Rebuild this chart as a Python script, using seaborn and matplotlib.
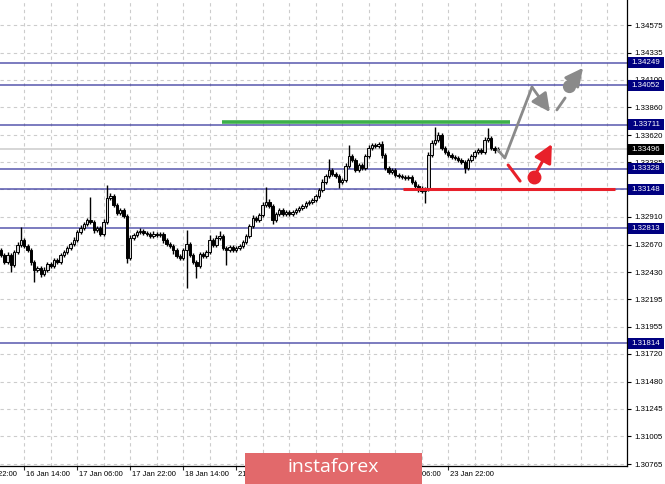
import numpy as np
import pandas as pd
import seaborn as sns
import matplotlib
matplotlib.use("Agg")
import matplotlib.pyplot as plt
from matplotlib.patches import Rectangle
from matplotlib.transforms import blended_transform_factory, ScaledTranslation

# ---------------- data ----------------
first_open = 1.32622
closes = [
    1.32579, 1.32518, 1.32579, 1.32492, 1.32605, 1.32665, 1.32709, 1.32657, 1.32622, 1.32518,
    1.32448, 1.32466, 1.32414, 1.32448, 1.32500, 1.32483, 1.32535, 1.32518, 1.32579, 1.32605,
    1.32639, 1.32674, 1.32709, 1.32778, 1.32813, 1.32848, 1.32882, 1.32865, 1.32796, 1.32813,
    1.32761, 1.32865, 1.33073, 1.33091, 1.33013, 1.32943, 1.32970, 1.32917, 1.32553, 1.32726,
    1.32752, 1.32778, 1.32787, 1.32770, 1.32761, 1.32744, 1.32761, 1.32752, 1.32761, 1.32709,
    1.32674, 1.32657, 1.32622, 1.32570, 1.32553, 1.32622, 1.32674, 1.32579, 1.32518, 1.32483,
    1.32587, 1.32570, 1.32605, 1.32709, 1.32665, 1.32726, 1.32744, 1.32639, 1.32622, 1.32648,
    1.32622, 1.32639, 1.32657, 1.32692, 1.32744, 1.32830, 1.32900, 1.32882, 1.32926, 1.33013,
    1.33039, 1.33004, 1.32882, 1.32935, 1.32970, 1.32935, 1.32952, 1.32935, 1.32952, 1.32970,
    1.32987, 1.33004, 1.33030, 1.33039, 1.33056, 1.33091, 1.33143, 1.33212, 1.33264, 1.33316,
    1.33282, 1.33264, 1.33212, 1.33230, 1.33351, 1.33438, 1.33403, 1.33316, 1.33360, 1.33334,
    1.33438, 1.33507, 1.33533, 1.33525, 1.33542, 1.33447, 1.33334, 1.33299, 1.33316, 1.33273,
    1.33264, 1.33256, 1.33247, 1.33256, 1.33212, 1.33178, 1.33160, 1.33134, 1.33151, 1.33447,
    1.33551, 1.33577, 1.33620, 1.33507, 1.33473, 1.33447, 1.33429, 1.33421, 1.33403, 1.33386,
    1.33334, 1.33403, 1.33438, 1.33473, 1.33490, 1.33473, 1.33577, 1.33594, 1.33507, 1.33490,
    1.33496,
]
upper_wick_pips = [
    2, 2, 3, 2, 2, 3, 11, 2, 2, 2,
    2, 2, 2, 3, 2, 2, 2, 2, 2, 2,
    2, 2, 3, 2, 3, 2, 2, 20, 2, 2,
    2, 3, 11, 3, 2, 2, 2, 2, 2, 3,
    2, 2, 3, 2, 2, 2, 3, 2, 2, 2,
    2, 2, 2, 2, 2, 2, 12, 2, 2, 2,
    2, 2, 2, 4, 2, 3, 4, 2, 2, 2,
    2, 2, 2, 2, 2, 2, 3, 2, 2, 3,
    13, 3, 2, 2, 2, 2, 2, 2, 2, 2,
    2, 2, 2, 2, 2, 2, 2, 3, 2, 10,
    2, 2, 2, 2, 3, 10, 2, 2, 2, 2,
    2, 3, 2, 2, 2, 3, 2, 2, 2, 2,
    2, 2, 2, 2, 2, 2, 2, 2, 2, 3,
    3, 11, 3, 2, 2, 2, 2, 2, 2, 2,
    2, 2, 2, 2, 2, 2, 3, 9, 2, 2,
    2,
]
lower_wick_pips = [
    2, 2, 2, 6, 2, 2, 2, 2, 2, 3,
    10, 2, 3, 2, 2, 2, 2, 2, 2, 2,
    2, 2, 2, 2, 2, 2, 2, 2, 3, 2,
    2, 2, 2, 2, 2, 2, 2, 2, 4, 2,
    2, 2, 2, 2, 2, 2, 2, 2, 2, 3,
    2, 2, 3, 2, 2, 2, 33, 2, 2, 10,
    2, 2, 2, 2, 2, 2, 2, 2, 13, 2,
    2, 2, 2, 2, 2, 2, 2, 2, 2, 2,
    2, 2, 3, 2, 2, 2, 2, 2, 2, 2,
    2, 2, 2, 2, 2, 2, 2, 2, 2, 2,
    2, 2, 5, 2, 2, 2, 2, 2, 2, 2,
    2, 2, 2, 2, 2, 3, 2, 2, 2, 2,
    2, 2, 2, 2, 2, 2, 3, 2, 10, 2,
    2, 2, 2, 2, 2, 2, 2, 2, 2, 2,
    4, 2, 2, 2, 2, 2, 2, 2, 2, 3,
    2,
]

price_ticks = [1.34575, 1.34335, 1.34100, 1.33860, 1.33620, 1.33385, 1.33150,
               1.32910, 1.32670, 1.32430, 1.32195, 1.31955, 1.31720, 1.31480,
               1.31245, 1.31005, 1.30765]
level_lines = [1.34249, 1.34052, 1.33711, 1.33328, 1.33148, 1.32813, 1.31814]
current_price = 1.33496

date_label_bars = [-9, 7, 23, 39, 55, 71, 87, 103, 119, 135]
date_labels = ["15 Jan 22:00", "16 Jan 14:00", "17 Jan 06:00", "17 Jan 22:00",
               "18 Jan 14:00", "21 Jan 06:00", "21 Jan 22:00", "22 Jan 14:00",
               "23 Jan 06:00", "23 Jan 22:00"]

green_level = 1.33729
green_span = [66.7, 153.7]
red_level = 1.33156
red_span = [121.4, 185.4]

gray_path_x = [150.0, 152.1, 160.3]
gray_path_y = [1.33490, 1.33421, 1.34036]
gray_arrow = [(160.3, 1.34036), (165.7, 1.33820)]
gray_dash = [(167.8, 1.33838), (170.3, 1.33942)]
gray_dot = (171.5, 1.34047)
gray_arrow2 = [(171.5, 1.34047), (175.7, 1.34203)]
red_seg = [(153.1, 1.33360), (156.7, 1.33221)]
red_dot = (160.9, 1.33256)
red_arrow = [(160.9, 1.33256), (166.3, 1.33542)]

# ---------------- figure ----------------
sns.set_style("white")
plt.rcParams["font.family"] = ["Liberation Sans", "DejaVu Sans"]

W, H = 665, 484
fig = plt.figure(figsize=(W / 100, H / 100), dpi=100)
ax = fig.add_axes([0, 18 / H, 627 / W, 466 / H])
ax.set_xlim(-0.302, 188.98)
ax.set_ylim(1.30748, 1.34792)

n = len(closes)
idx = np.arange(n)
opens = [first_open] + closes[:-1]
df = pd.DataFrame({"i": idx, "open": opens, "close": closes})
df["high"] = df[["open", "close"]].max(axis=1) + np.array(upper_wick_pips) * 0.0001
df["low"] = df[["open", "close"]].min(axis=1) - np.array(lower_wick_pips) * 0.0001

# grid
for gx in np.arange(-1, 190, 8):
    ax.axvline(gx, color="#cccccc", lw=0.8, ls=(0, (3, 3)), zorder=0)
for gy in price_ticks:
    ax.axhline(gy, color="#cccccc", lw=0.8, ls=(0, (3, 3)), zorder=0)

# current price line
ax.axhline(current_price, color="#cfcfcf", lw=1.2, zorder=1)

# level lines
for lv in level_lines:
    ax.axhline(lv, color="#3a3aa0", lw=1.1, alpha=0.85, zorder=1)

# candles
ax.vlines(df["i"], df["low"], df["high"], color="black", lw=1.0, zorder=3)
bull = df["close"] >= df["open"]
ax.bar(df["i"][bull], (df["close"] - df["open"])[bull], bottom=df["open"][bull],
       width=0.72, color="#d8d8d8", edgecolor="black", linewidth=0.7, zorder=4)
ax.bar(df["i"][~bull], (df["close"] - df["open"])[~bull], bottom=df["open"][~bull],
       width=0.72, color="black", edgecolor="black", linewidth=0.7, zorder=4)

# green and red horizontal lines
ax.plot(green_span, [green_level, green_level], color="#3cb04a", lw=2.6,
        solid_capstyle="butt", zorder=5)
ax.plot(red_span, [red_level, red_level], color="#e8202a", lw=2.2,
        solid_capstyle="butt", zorder=5)

# forecast paths
path_df = pd.DataFrame({"x": gray_path_x, "y": gray_path_y})
sns.lineplot(data=path_df, x="x", y="y", ax=ax, color="#8a8a8a", lw=2.0,
             sort=False, zorder=6)
head = "-|>,head_length=1.1,head_width=0.55"
ax.annotate("", xy=gray_arrow[1], xytext=gray_arrow[0],
            arrowprops=dict(arrowstyle=head, color="#8a8a8a", lw=2.0,
                            shrinkA=0, shrinkB=0), zorder=6)
ax.plot([p[0] for p in gray_dash], [p[1] for p in gray_dash], color="#8a8a8a",
        lw=2.0, zorder=6)
ax.annotate("", xy=gray_arrow2[1], xytext=gray_arrow2[0],
            arrowprops=dict(arrowstyle=head, color="#8a8a8a", lw=2.0,
                            shrinkA=0, shrinkB=0), zorder=6)
ax.plot([gray_dot[0]], [gray_dot[1]], "o", color="#8a8a8a", ms=8.5, zorder=7)

ax.plot([p[0] for p in red_seg], [p[1] for p in red_seg], color="#e8202a",
        lw=2.2, zorder=6)
ax.annotate("", xy=red_arrow[1], xytext=red_arrow[0],
            arrowprops=dict(arrowstyle=head, color="#e8202a", lw=2.2,
                            shrinkA=0, shrinkB=0), zorder=6)
ax.plot([red_dot[0]], [red_dot[1]], "o", color="#e8202a", ms=9, zorder=7)

# axes styling
for s in ["top", "left"]:
    ax.spines[s].set_visible(False)
for s in ["right", "bottom"]:
    ax.spines[s].set_color("black")
    ax.spines[s].set_linewidth(0.9)
ax.yaxis.tick_right()
ax.set_yticks(price_ticks)
ax.set_yticklabels([f"{t:.5f}" for t in price_ticks])
ax.tick_params(axis="y", direction="out", length=3, width=0.8, pad=2,
               labelsize=5.7, colors="black", right=True, left=False)
ax.set_xticks([b for b in date_label_bars if b >= 0])
ax.set_xticklabels([])
ax.tick_params(axis="x", direction="out", length=3, width=0.8, bottom=True)
ax.set_xlabel("")
ax.set_ylabel("")

# date labels (left aligned after tick)
tr = blended_transform_factory(ax.transData, ax.transAxes) + \
    ScaledTranslation(2 / 100, -8 / 100, fig.dpi_scale_trans)
for b, lab in zip(date_label_bars, date_labels):
    ax.text(b, 0, lab, transform=tr, ha="left", va="center", fontsize=5.5,
            color="black", clip_on=False)

# level boxes on price axis
btr = blended_transform_factory(ax.transAxes, ax.transData)
box_h = 11 * 0.00008679
box_w = 36 / 627
for lv in level_lines + [current_price]:
    fc = "black" if lv == current_price else "#000080"
    ax.add_patch(Rectangle((1.0015, lv - box_h / 2), box_w, box_h, transform=btr,
                           facecolor=fc, edgecolor="none", clip_on=False, zorder=8))
    ax.text(1.0015 + box_w / 2, lv, f"{lv:.5f}", transform=btr, ha="center",
            va="center", fontsize=5.7, color="white", clip_on=False, zorder=9)

# instaforex banner
fig.patches.append(Rectangle((245 / W, 0), 177 / W, 31 / H, transform=fig.transFigure,
                             facecolor="#e2696b", edgecolor="none", zorder=10))
fig.text(333 / W, 16.5 / H, "instaforex", ha="center", va="center", color="white",
         fontsize=14, family=["Open Sans", "DejaVu Sans"], zorder=11)

fig.savefig("out.png", dpi=100)
